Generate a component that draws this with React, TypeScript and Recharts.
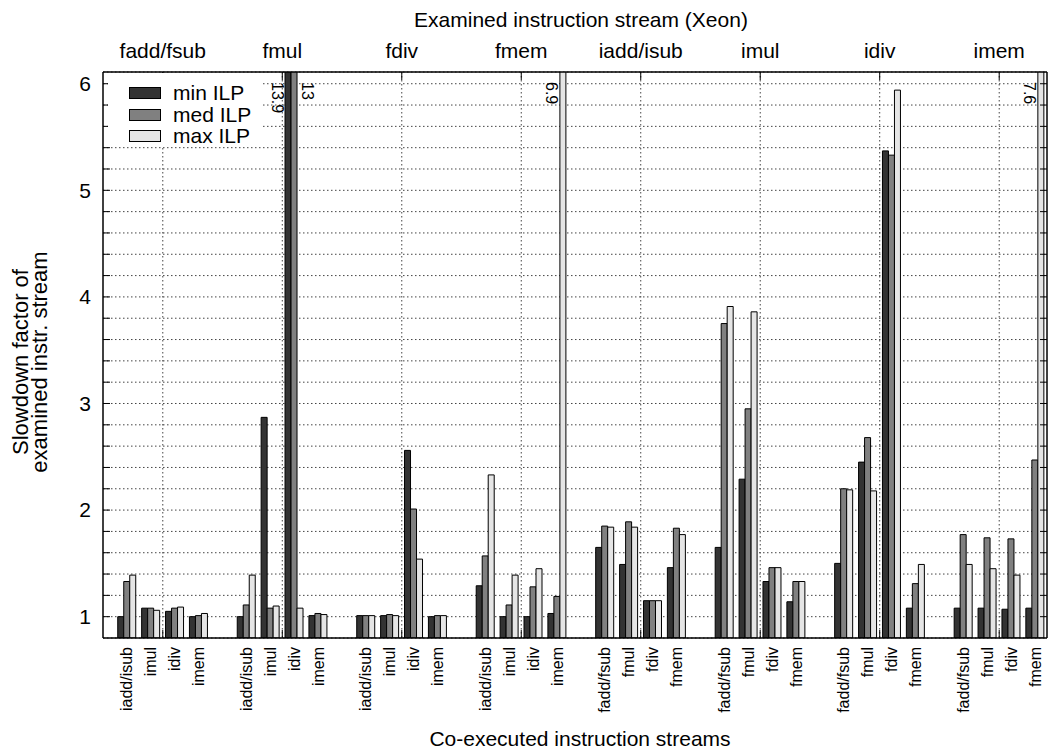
import React from "react";
import {
  BarChart,
  Bar,
  XAxis,
  YAxis,
  CartesianGrid,
  Legend,
  LabelList,
} from "recharts";

// examined stream (top axis) and co-executed streams (bottom axis)
const examined = ["fadd/fsub", "fmul", "fdiv", "fmem", "iadd/isub", "imul", "idiv", "imem"];
const coExecInt = ["iadd/isub", "imul", "idiv", "imem"];
const coExecFp = ["fadd/fsub", "fmul", "fdiv", "fmem"];

// slowdown factors, 4 co-executed streams per examined stream
const minILP = [
  1.0, 1.08, 1.05, 1.0,
  1.0, 2.87, 13.9, 1.01,
  1.01, 1.01, 2.56, 1.0,
  1.29, 1.0, 1.0, 1.03,
  1.65, 1.49, 1.15, 1.46,
  1.65, 2.29, 1.33, 1.14,
  1.5, 2.45, 5.37, 1.08,
  1.08, 1.08, 1.07, 1.08,
];
const medILP = [
  1.33, 1.08, 1.08, 1.01,
  1.11, 1.08, 13, 1.03,
  1.01, 1.02, 2.01, 1.01,
  1.57, 1.11, 1.28, 1.19,
  1.85, 1.89, 1.15, 1.83,
  3.75, 2.95, 1.46, 1.33,
  2.2, 2.68, 5.33, 1.31,
  1.77, 1.74, 1.73, 2.47,
];
const maxILP = [
  1.39, 1.06, 1.09, 1.03,
  1.39, 1.1, 1.08, 1.02,
  1.01, 1.01, 1.54, 1.01,
  2.33, 1.39, 1.45, 6.9,
  1.84, 1.84, 1.15, 1.77,
  3.91, 3.86, 1.46, 1.33,
  2.19, 2.18, 5.94, 1.49,
  1.49, 1.45, 1.39, 7.6,
];

const yTicks = [1, 1.2, 1.4, 1.6, 1.8, 2, 2.2, 2.4, 2.6, 2.8, 3, 3.2, 3.4, 3.6, 3.8, 4, 4.2, 4.4, 4.6, 4.8, 5, 5.2, 5.4, 5.6, 5.8, 6];

const series = [
  { key: "min", name: "min ILP", fill: "#333333", side: "left" },
  { key: "med", name: "med ILP", fill: "#808080", side: "right" },
  { key: "max", name: "max ILP", fill: "#e5e5e5", side: "left" },
];

const FONT = "'Liberation Sans', Arial, Helvetica, sans-serif";
const W = 1051;
const H = 755;
const PLOT_LEFT = 103;
const PLOT_RIGHT = 1047;
const PLOT_TOP = 72;
const PLOT_BOTTOM = 638;
const PAD_LEFT = 12;
const Y_MIN = 0.8;
const Y_MAX = 6.11;

// one empty slot between groups of examined streams
const rows: any[] = [];
const slotLabel: Record<string, string> = {};
const groupAtSlot: Record<string, number> = {};
examined.forEach((_, g) => {
  const co = g < 4 ? coExecInt : coExecFp;
  if (g > 0) {
    rows.push({ slot: `gap${g}` });
    slotLabel[`gap${g}`] = "";
  }
  co.forEach((name, j) => {
    const i = g * 4 + j;
    rows.push({ slot: `s${i}`, min: minILP[i], med: medILP[i], max: maxILP[i] });
    slotLabel[`s${i}`] = name;
    if (j === 1) groupAtSlot[`s${i}`] = g;
  });
});
const BAND = (PLOT_RIGHT - PLOT_LEFT - PAD_LEFT) / rows.length;
// dotted verticals sit between the 2nd and 3rd bar group of each block
const groupLines = examined.map((_, g) => PLOT_LEFT + PAD_LEFT + (g * 5 + 2) * BAND);

const YTick = ({ y, payload }: any) => {
  const v = payload.value;
  const isInt = Math.abs(v - Math.round(v)) < 1e-6;
  return (
    <g>
      <line x1={PLOT_LEFT} x2={PLOT_LEFT + 7} y1={y} y2={y} stroke="#000" />
      <line x1={PLOT_RIGHT - 7} x2={PLOT_RIGHT} y1={y} y2={y} stroke="#000" />
      {isInt && (
        <text x={PLOT_LEFT - 12} y={y} dy="0.35em" textAnchor="end" fontSize={21} fontFamily={FONT} fill="#000">
          {Math.round(v)}
        </text>
      )}
    </g>
  );
};

const TopTick = ({ x, payload }: any) => {
  const g = groupAtSlot[payload.value];
  if (g === undefined) return null;
  const cx = Number(x) + BAND / 2;
  return (
    <g>
      <line x1={cx} x2={cx} y1={PLOT_TOP} y2={PLOT_TOP + 8} stroke="#000" />
      <line x1={cx} x2={cx} y1={PLOT_BOTTOM} y2={PLOT_BOTTOM - 8} stroke="#000" />
      <text x={cx} y={58} textAnchor="middle" fontSize={21} fontFamily={FONT} fill="#000">
        {examined[g]}
      </text>
    </g>
  );
};

const BottomTick = ({ x, payload }: any) => {
  const label = slotLabel[payload.value];
  if (!label) return null;
  const y = PLOT_BOTTOM + 9;
  return (
    <text
      x={x}
      y={y}
      transform={`rotate(-90 ${x} ${y})`}
      textAnchor="end"
      dominantBaseline="central"
      fontSize={16}
      fontFamily={FONT}
      fill="#000"
    >
      {label}
    </text>
  );
};

// values above the top of the axis get a rotated number next to the bar
const overflowLabel = (side: string) => (props: any) => {
  const { x, width, value } = props;
  if (value == null || value <= Y_MAX) return null;
  const cx = side === "left" ? Number(x) - 8 : Number(x) + Number(width) + 10;
  const cy = PLOT_TOP + 10;
  return (
    <text
      x={cx}
      y={cy}
      transform={`rotate(90 ${cx} ${cy})`}
      textAnchor="start"
      dominantBaseline="central"
      fontSize={16}
      fontFamily={FONT}
      fill="#000"
    >
      {value}
    </text>
  );
};

const LegendBox = () => (
  <div style={{ background: "#fff", width: 154, height: 73, position: "relative", fontFamily: FONT, fontSize: 21 }}>
    {series.map((s, i) => (
      <div key={s.key} style={{ position: "absolute", left: 0, top: 9 + i * 21.5, height: 22, display: "flex", alignItems: "center" }}>
        <span style={{ display: "inline-block", width: 30, height: 10, marginLeft: 21, background: s.fill, border: "1px solid #000" }} />
        <span style={{ marginLeft: 12, lineHeight: "22px" }}>{s.name}</span>
      </div>
    ))}
  </div>
);

export default function App() {
  return (
    <div style={{ position: "absolute", left: 0, top: 0, width: W, height: H, background: "#fff" }}>
      <BarChart
        width={W}
        height={H}
        data={rows}
        margin={{ top: 0, right: W - PLOT_RIGHT, bottom: 0, left: PLOT_LEFT - 60 }}
        barCategoryGap="11.5%"
        barGap={0}
      >
        <CartesianGrid stroke="#444" strokeDasharray="1.5 2.5" verticalPoints={groupLines} />
        <XAxis
          dataKey="slot"
          interval={0}
          height={H - PLOT_BOTTOM}
          padding={{ left: PAD_LEFT, right: 0 }}
          tickLine={false}
          axisLine={{ stroke: "#000", strokeWidth: 1.5 }}
          tick={<BottomTick />}
        />
        <XAxis
          xAxisId="top"
          dataKey="slot"
          orientation="top"
          interval={0}
          height={PLOT_TOP}
          padding={{ left: PAD_LEFT, right: 0 }}
          tickLine={false}
          axisLine={{ stroke: "#000", strokeWidth: 1.5 }}
          tick={<TopTick />}
        />
        <YAxis
          width={60}
          domain={[Y_MIN, Y_MAX]}
          allowDataOverflow
          ticks={yTicks}
          interval={0}
          tickLine={false}
          axisLine={{ stroke: "#000", strokeWidth: 1.5 }}
          tick={<YTick />}
        />
        <Legend
          layout="vertical"
          align="center"
          verticalAlign="middle"
          wrapperStyle={{ left: 108, top: 73, width: 154, height: 73 }}
          content={<LegendBox />}
        />
        {series.map((s) => (
          <Bar
            key={s.key}
            dataKey={s.key}
            name={s.name}
            fill={s.fill}
            stroke="#000"
            strokeWidth={1}
            isAnimationActive={false}
          >
            <LabelList dataKey={s.key} content={overflowLabel(s.side)} />
          </Bar>
        ))}
      </BarChart>
      <svg width={W} height={H} style={{ position: "absolute", left: 0, top: 0, pointerEvents: "none" }}>
        <line x1={PLOT_RIGHT} x2={PLOT_RIGHT} y1={PLOT_TOP} y2={PLOT_BOTTOM} stroke="#000" strokeWidth={1.5} />
        <text x={581} y={27} textAnchor="middle" fontSize={21} fontFamily={FONT} fill="#000">
          Examined instruction stream (Xeon)
        </text>
        <text x={580} y={746} textAnchor="middle" fontSize={21} fontFamily={FONT} fill="#000">
          Co-executed instruction streams
        </text>
        <text x={28} y={362} transform="rotate(-90 28 362)" textAnchor="middle" fontSize={22} fontFamily={FONT} fill="#000">
          Slowdown factor of
        </text>
        <text x={47} y={362} transform="rotate(-90 47 362)" textAnchor="middle" fontSize={22} fontFamily={FONT} fill="#000">
          examined instr. stream
        </text>
      </svg>
    </div>
  );
}
